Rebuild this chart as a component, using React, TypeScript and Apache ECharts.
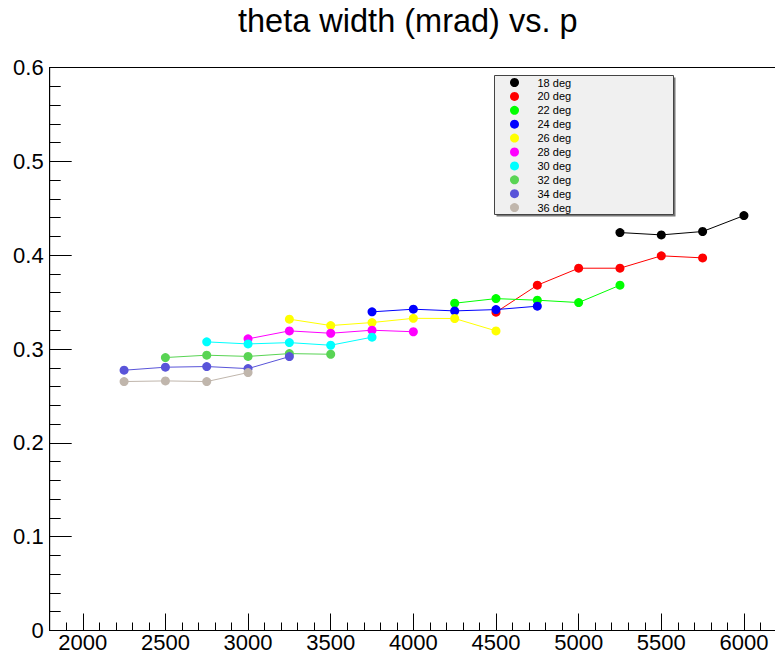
import React, { useEffect, useRef } from "react";
import * as echarts from "echarts";

const FONT = "'Liberation Sans', Arial, Helvetica, sans-serif";

const seriesNames = ["18 deg", "20 deg", "22 deg", "24 deg", "26 deg", "28 deg", "30 deg", "32 deg", "34 deg", "36 deg"];
const seriesColors = ["#000000", "#ff0000", "#00ff00", "#0000ff", "#ffff00", "#ff00ff", "#00ffff", "#59d454", "#5954d9", "#c0b6ac"];

const p18 = [5250, 5500, 5750, 6000];
const w18 = [0.4241, 0.4216, 0.4252, 0.4422];
const p20 = [4500, 4750, 5000, 5250, 5500, 5750];
const w20 = [0.3392, 0.368, 0.3861, 0.3861, 0.3993, 0.3971];
const p22 = [4250, 4500, 4750, 5000, 5250];
const w22 = [0.3488, 0.3537, 0.352, 0.3495, 0.368];
const p24 = [3750, 4000, 4250, 4500, 4750];
const w24 = [0.3396, 0.3424, 0.3406, 0.342, 0.3456];
const p26 = [3250, 3500, 3750, 4000, 4250, 4500];
const w26 = [0.3318, 0.325, 0.3282, 0.3327, 0.3325, 0.3193];
const p28 = [3000, 3250, 3500, 3750, 4000];
const w28 = [0.3108, 0.3193, 0.3168, 0.32, 0.3184];
const p30 = [2750, 3000, 3250, 3500, 3750];
const w30 = [0.3076, 0.3054, 0.3068, 0.304, 0.3126];
const p32 = [2500, 2750, 3000, 3250, 3500];
const w32 = [0.2909, 0.2934, 0.2921, 0.2951, 0.2944];
const p34 = [2250, 2500, 2750, 3000, 3250];
const w34 = [0.2774, 0.2806, 0.2813, 0.2791, 0.2919];
const p36 = [2250, 2500, 2750, 3000];
const w36 = [0.2653, 0.266, 0.2653, 0.2749];

const allP = [p18, p20, p22, p24, p26, p28, p30, p32, p34, p36];
const allW = [w18, w20, w22, w24, w26, w28, w30, w32, w34, w36];

const xMajorTicks = [2000, 2500, 3000, 3500, 4000, 4500, 5000, 5500, 6000];
const titleText = "theta width (mrad) vs. p";

export default function App() {
  const ref = useRef<HTMLDivElement>(null);
  useEffect(() => {
    if (!ref.current) return;
    const chart = echarts.init(ref.current, undefined, { renderer: "svg" });
    const series = seriesNames.map((name, i) => ({
      name,
      type: "line",
      xAxisIndex: 0,
      yAxisIndex: 0,
      data: allP[i].map((p, j) => [p, allW[i][j]]),
      symbol: "circle",
      symbolSize: 9,
      showSymbol: true,
      itemStyle: { color: seriesColors[i] },
      lineStyle: { color: seriesColors[i], width: 1 },
      z: 2 + i * 0.01,
    }));
    chart.setOption({
      animation: false,
      backgroundColor: "#ffffff",
      grid: {
        left: 49.7,
        top: 67.5,
        right: -2,
        bottom: 30.5,
        show: true,
        borderColor: "#000",
        borderWidth: 1,
        backgroundColor: "transparent",
        containLabel: false,
        outerBoundsMode: "none",
      },
      xAxis: [
        {
          type: "value",
          min: 1800,
          max: 6200,
          interval: 100,
          position: "bottom",
          axisLine: { show: true, lineStyle: { color: "#000", width: 1 } },
          axisTick: { show: true, inside: true, length: 8, lineStyle: { color: "#000" } },
          axisLabel: {
            show: true,
            customValues: xMajorTicks,
            formatter: (v: number) => String(v),
            fontSize: 22,
            fontFamily: FONT,
            color: "#000",
            margin: 1,
          },
          splitLine: { show: false },
        },
        {
          type: "value",
          min: 1800,
          max: 6200,
          interval: 100,
          position: "bottom",
          axisLine: { show: false },
          axisTick: { show: true, inside: true, length: 17, customValues: xMajorTicks, lineStyle: { color: "#000" } },
          axisLabel: { show: false },
          splitLine: { show: false },
        },
      ],
      yAxis: {
        type: "value",
        min: 0,
        max: 0.6,
        interval: 0.1,
        axisLine: { show: true, lineStyle: { color: "#000", width: 1 } },
        axisTick: { show: true, inside: true, length: 22, lineStyle: { color: "#000" } },
        minorTick: { show: true, splitNumber: 5, length: 11, lineStyle: { color: "#000" } },
        axisLabel: { fontSize: 22, fontFamily: FONT, color: "#000", margin: 6 },
        splitLine: { show: false },
        minorSplitLine: { show: false },
      },
      legend: {
        data: seriesNames,
        orient: "vertical",
        left: 510,
        top: 77,
        padding: 0,
        icon: "circle",
        itemWidth: 36,
        itemHeight: 9,
        itemGap: 2.9,
        selectedMode: false,
        z: 10,
        textStyle: { fontSize: 11, fontFamily: FONT, color: "#000", lineHeight: 9 },
      },
      graphic: {
        elements: [
          {
            type: "rect",
            z: 8,
            shape: { x: 496.5, y: 77.5, width: 179, height: 139 },
            style: { fill: "#777777" },
            silent: true,
          },
          {
            type: "rect",
            z: 9,
            shape: { x: 494.5, y: 75.5, width: 179, height: 139 },
            style: { fill: "#f0f0f0", stroke: "#444444", lineWidth: 1 },
            silent: true,
          },
          {
            type: "text",
            z: 10,
            x: 407.8,
            y: 4.5,
            style: {
              text: titleText,
              fontSize: 32.5,
              fontFamily: FONT,
              fill: "#000",
              align: "center",
              verticalAlign: "top",
              textAlign: "center",
              textVerticalAlign: "top",
            },
          },
        ],
      },
      series,
    } as any);
    return () => chart.dispose();
  }, []);
  return (
    <div
      ref={ref}
      style={{ position: "absolute", left: 0, top: 0, width: 775, height: 661, background: "#fff" }}
    />
  );
}
